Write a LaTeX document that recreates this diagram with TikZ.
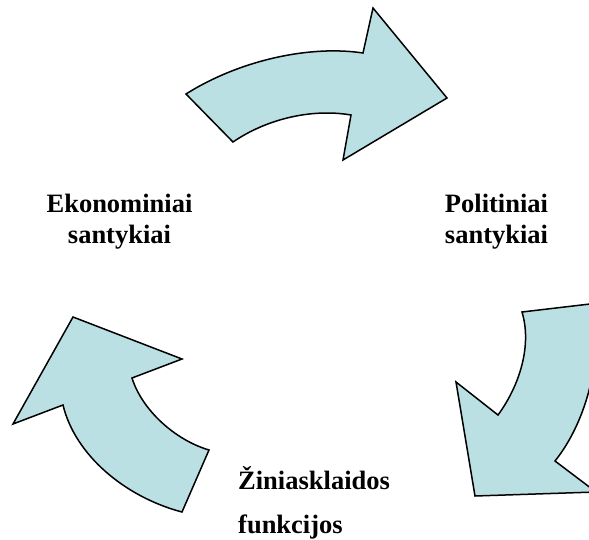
\documentclass[tikz,border=0pt]{standalone}
\usepackage{fontspec}
\setmainfont{Liberation Serif}
\definecolor{arrowfill}{RGB}{187,224,227}
\begin{document}
\begin{tikzpicture}[x=1pt,y=-1pt,
  bigarrow/.style={fill=arrowfill,draw=black,line width=1.5pt,line join=miter},
  label/.style={inner sep=0pt,font=\bfseries\fontsize{26.5}{31}\selectfont}]
\useasboundingbox (0,0) rectangle (589,540);
\clip (0,0) rectangle (589,540);
% top arrow
\draw[bigarrow] (186,94) -- (233,142)
  .. controls (265,120) and (310,108) .. (351,115)
  -- (343,160) -- (447,98) -- (373,8) -- (363,53)
  .. controls (310,45) and (240,60) .. (186,94) -- cycle;
% right arrow
\draw[bigarrow] (522,312) -- (590,304)
  .. controls (605,350) and (588,420) .. (555,461)
  -- (596,492) -- (475,496) -- (456,382) -- (498,415)
  .. controls (520,385) and (532,345) .. (522,312) -- cycle;
% left arrow
\draw[bigarrow] (73,317) -- (182,359) -- (132,378)
  .. controls (142,410) and (175,440) .. (209,450)
  -- (182,512)
  .. controls (125,497) and (75,455) .. (63,405)
  -- (13,424) -- cycle;
\node[label,align=center] (ekon) at (119.5,221.5) {Ekonominiai\\santykiai};
\node[label,align=center] (polit) at (496.5,221.5) {Politiniai\\santykiai};
\node[label,align=left,anchor=west,font=\bfseries\fontsize{26.5}{44}\selectfont] (zin) at (238,502.5) {Žiniasklaidos\\funkcijos};
\end{tikzpicture}
\end{document}
